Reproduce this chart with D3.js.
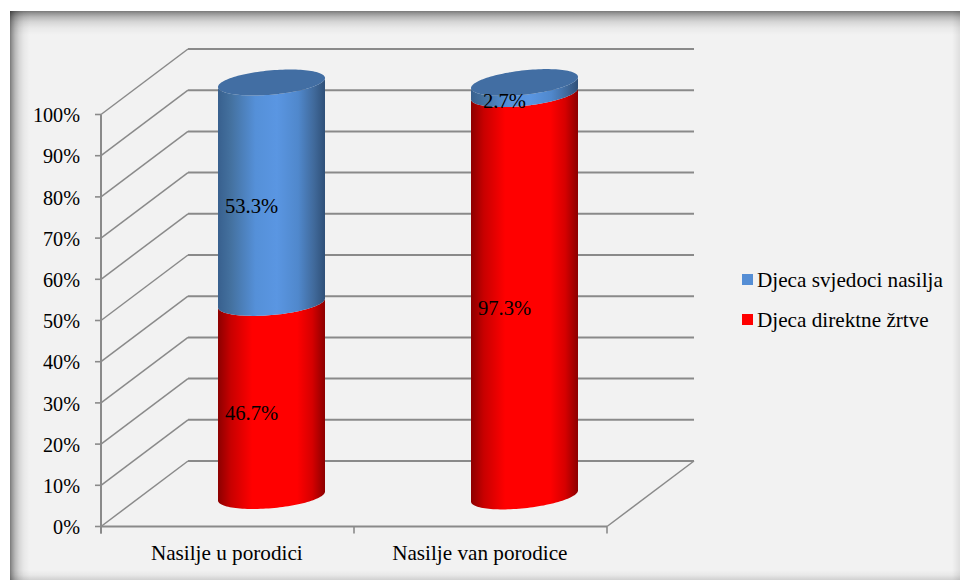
<!DOCTYPE html>
<html><head><meta charset="utf-8">
<style>html,body{margin:0;padding:0;background:#fff}svg{display:block}text{font-family:"Liberation Serif","Times New Roman",serif;fill:#000}</style>
<script src="https://cdn.jsdelivr.net/npm/d3@7/dist/d3.min.js"></script>
</head><body><svg id="c" width="960" height="580"></svg>
<script>
const categories = ["Nasilje u porodici", "Nasilje van porodice"];
const seriesNames = ["Djeca direktne žrtve", "Djeca svjedoci nasilja"];
const direktne = [46.7, 97.3];
const svjedoci = [53.3, 2.7];
const tickValues = [0,10,20,30,40,50,60,70,80,90,100];
const legendOrder = ["Djeca svjedoci nasilja", "Djeca direktne žrtve"];

const svg = d3.select("#c"), defs = svg.append("defs");
const x = d3.scaleBand().domain(categories).range([101,607]);
const y = d3.scaleLinear().domain([0,100]).range([526.5,114.5]);
const yC = d3.scaleLinear().domain([0,100]).range([496,82.5]);
const depthX = 87, depthY = -65.5, cylDX = 44, rx = 53.5, ry = 12.2;
const tilt = [4.5, 5.6];
const gridCol = "#8a8a8a";

function lin(id, dir, stops){
  const g = defs.append("linearGradient").attr("id",id);
  if(dir==="h") g.attr("x1",0).attr("x2",1).attr("y1",0).attr("y2",0);
  else g.attr("x1",0).attr("x2",0).attr("y1",0).attr("y2",1);
  stops.forEach(s=>g.append("stop").attr("offset",s[0]).attr("stop-color",s[1]).attr("stop-opacity",s[2]===undefined?1:s[2]));
}
lin("red","h",[[0,"#8c0000"],[.12,"#c80000"],[.32,"#ff0000"],[.74,"#ff0000"],[.88,"#d60000"],[1,"#8c0000"]]);
lin("blue","h",[[0,"#38608e"],[.12,"#44719f"],[.35,"#5590d8"],[.55,"#5a96e2"],[.75,"#5088cc"],[.9,"#40699a"],[1,"#2f5078"]]);
const fade = [[0,"#000",.5],[.1,"#000",.38],[.25,"#000",.24],[.45,"#000",.12],[.7,"#000",.04],[1,"#000",0]];
lin("shT","v",fade);
lin("shL","h",fade);
lin("shB","v",[[0,"#000",0],[.5,"#000",.04],[1,"#000",.14]]);
lin("shR","h",[[0,"#000",0],[1,"#000",.08]]);

// panel and its inner shadow
svg.append("rect").attr("x",10).attr("y",11).attr("width",950).attr("height",569).attr("fill","#f2f2f2");
svg.append("rect").attr("x",10).attr("y",570).attr("width",950).attr("height",10).attr("fill","url(#shB)");
svg.append("rect").attr("x",952).attr("y",11).attr("width",8).attr("height",569).attr("fill","url(#shR)");
svg.append("rect").attr("x",10).attr("y",11).attr("width",950).attr("height",24).attr("fill","url(#shT)");
svg.append("rect").attr("x",10).attr("y",11).attr("width",20).attr("height",569).attr("fill","url(#shL)");

// gridlines
const [x0,x1] = x.range();
const grid = svg.append("g").attr("fill","none").attr("stroke",gridCol);
tickValues.forEach(t=>{
  const yb = y(t)+depthY;
  grid.append("path").attr("stroke-width",1.5).attr("d",d3.line()([[x0,y(t)],[x0+depthX,yb]]));
  grid.append("path").attr("stroke-width",2).attr("d",d3.line()([[x0+depthX,yb],[x1+depthX,yb]]));
});
// axes
grid.append("path").attr("stroke-width",2).attr("d",d3.line()([[x0,y(0)],[x1,y(0)]]));
grid.append("path").attr("stroke-width",1.5).attr("d",d3.line()([[x1,y(0)],[x1+depthX,y(0)+depthY]]));
grid.append("path").attr("stroke-width",2).attr("d",d3.line()([[x0,y(100)],[x0,y(0)+7]]));
tickValues.forEach(t=>grid.append("path").attr("stroke-width",1.6).attr("d",d3.line()([[x0-6,y(t)],[x0,y(t)]])));
[x0,x0+x.bandwidth(),x1].forEach(v=>grid.append("path").attr("stroke-width",1.6).attr("d",d3.line()([[v,y(0)],[v,y(0)+7]])));

svg.append("g").selectAll("text").data(tickValues).join("text")
  .attr("x",80).attr("y",d=>y(d)).attr("dy","0.38em").attr("text-anchor","end")
  .attr("font-size",20.2).text(d=>d+"%");
svg.append("g").selectAll("text").data(categories).join("text")
  .attr("x",d=>x(d)+x.bandwidth()/2-0.7).attr("y",559.5).attr("text-anchor","middle")
  .attr("font-size",21.2).text(d=>d);

// cylinders
const ts = d3.range(0,1.0001,1/60);
function segment(cx,k,yTop,yBot){
  const up = ts.map(p=>{const a=Math.PI*p; return [cx-rx*Math.cos(a), yTop+ry*Math.sin(a)+k*Math.cos(a)];});
  const lo = ts.map(p=>{const a=Math.PI*p; return [cx+rx*Math.cos(a), yBot+ry*Math.sin(a)-k*Math.cos(a)];});
  return d3.line()(up.concat(lo))+"Z";
}
function topCap(cx,k,yy){
  const pts = d3.range(0,2,1/60).map(p=>{const a=Math.PI*p; return [cx-rx*Math.cos(a), yy+ry*Math.sin(a)+k*Math.cos(a)];});
  return d3.line()(pts)+"Z";
}
const cyl = svg.append("g"), labels = svg.append("g");
categories.forEach((c,i)=>{
  const cx = x(c)+x.bandwidth()/2+cylDX, k = tilt[i];
  const a = direktne[i], b = svjedoci[i];
  cyl.append("path").attr("d",segment(cx,k,yC(a),yC(0))).attr("fill","url(#red)");
  cyl.append("path").attr("d",segment(cx,k,yC(a+b),yC(a))).attr("fill","url(#blue)");
  cyl.append("path").attr("d",topCap(cx,k,yC(a+b))).attr("fill","#426ea3");
  [[a,a/2],[b,a+b/2]].forEach(([v,mid])=>{
    labels.append("text").attr("x",cx-20).attr("y",yC(mid)+13).attr("dy","0.36em")
      .attr("text-anchor","middle").attr("font-size",20.6).text(v.toFixed(1)+"%");
  });
});

// legend
const legCol = {"Djeca svjedoci nasilja":"#558ed5","Djeca direktne žrtve":"#ff0000"};
const leg = d3.scalePoint().domain(legendOrder).range([279.5,319.5]);
legendOrder.forEach(n=>{
  svg.append("rect").attr("x",742).attr("y",leg(n)-5.5).attr("width",11).attr("height",11).attr("fill",legCol[n]);
  svg.append("text").attr("x",757).attr("y",leg(n)).attr("dy","0.34em").attr("font-size",21.2).text(n);
});
</script></body></html>
